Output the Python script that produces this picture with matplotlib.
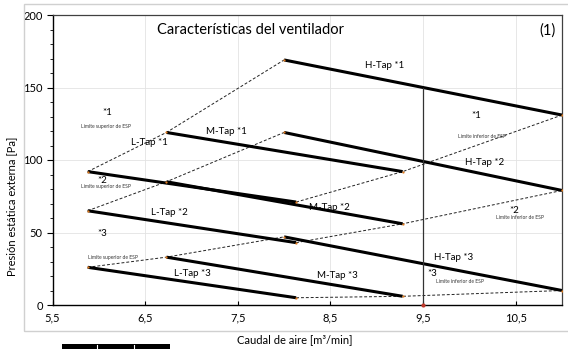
import numpy as np
import matplotlib
matplotlib.use("Agg")
import matplotlib.pyplot as plt
from matplotlib.patches import Rectangle
from matplotlib.lines import Line2D
from matplotlib.ticker import MultipleLocator, FixedLocator

plt.rcParams['font.family'] = ['Lato', 'DejaVu Sans']

# ---- data ----
x_L = [5.88, 8.13]
x_M = [6.73, 9.28]
x_H = [8.0, 11.0]
L_tap = {1: [92, 71], 2: [65, 43], 3: [26, 5]}
M_tap = {1: [119, 92], 2: [85, 56], 3: [33, 6]}
H_tap = {1: [169, 131], 2: [119, 79], 3: [47, 10]}
x_ticks = [5.5, 6.5, 7.5, 8.5, 9.5, 10.5]
x_ticklabels = ["5,5", "6,5", "7,5", "8,5", "9,5", "10,5"]
y_ticks = [0, 50, 100, 150, 200]
x_ref = 9.5

tap_labels = [
    ("H-Tap *1", 9.08, 165), ("M-Tap *1", 7.38, 120), ("L-Tap *1", 6.55, 112),
    ("H-Tap *2", 10.17, 98.5), ("M-Tap *2", 8.49, 67.5), ("L-Tap *2", 6.76, 63.5),
    ("H-Tap *3", 9.83, 33), ("M-Tap *3", 8.58, 20), ("L-Tap *3", 7.01, 22),
]
star_labels = [
    ("*1", 6.09, 133), ("*1", 10.08, 131), ("*2", 6.04, 86), ("*2", 10.48, 65.5),
    ("*3", 6.04, 49.5), ("*3", 9.6, 22),
]
limit_labels = [
    ("Límite superior de ESP", 6.08, 123), ("Límite inferior de ESP", 10.14, 116),
    ("Límite superior de ESP", 6.08, 81.5), ("Límite inferior de ESP", 10.55, 60.5),
    ("Límite superior de ESP", 6.15, 32.5), ("Límite inferior de ESP", 9.9, 16.5),
]

W, H = 568, 349
fig = plt.figure(figsize=(W / 100, H / 100), dpi=100)

# outer chart frame
fig.add_artist(Rectangle((24 / W, 1 - 331 / H), 1.0, 327 / H, transform=fig.transFigure,
                         fill=False, edgecolor='#d0d0d0', lw=1.0))

ax = fig.add_axes([52.5 / W, 1 - 305 / H, (562 - 52.5) / W, (305 - 15) / H])
ax.set_xlim(5.5, 11.0)
ax.set_ylim(0, 200)

ax.xaxis.set_major_locator(FixedLocator(x_ticks))
ax.set_xticklabels(x_ticklabels)
ax.yaxis.set_major_locator(FixedLocator(y_ticks))
ax.yaxis.set_minor_locator(MultipleLocator(10))
ax.tick_params(axis='both', labelsize=8, colors='black', pad=3)
ax.tick_params(axis='x', pad=5)
ax.tick_params(axis='y', which='major', length=4, direction='out')
ax.tick_params(axis='y', which='minor', length=2, direction='out')
ax.tick_params(axis='x', which='major', length=3, direction='in')
ax.grid(True, which='major', color='#e3e3e3', lw=0.6)
ax.set_axisbelow(True)

for s in ['left', 'bottom']:
    ax.spines[s].set_color('black')
    ax.spines[s].set_linewidth(1.0)
for s in ['top', 'right']:
    ax.spines[s].set_color('#404040')
    ax.spines[s].set_linewidth(0.9)

# dashed ESP limit lines
xs_up = [x_L[0], x_M[0], x_H[0]]
xs_lo = [x_L[1], x_M[1], x_H[1]]
for i in (1, 2, 3):
    ax.plot(xs_up, [L_tap[i][0], M_tap[i][0], H_tap[i][0]], color='#222222', lw=0.7,
            ls=(0, (3, 2)), zorder=3)
    ax.plot(xs_lo, [L_tap[i][1], M_tap[i][1], H_tap[i][1]], color='#222222', lw=0.7,
            ls=(0, (3, 2)), zorder=3)

# tap curves
for xs, d in ((x_L, L_tap), (x_M, M_tap), (x_H, H_tap)):
    for i in (1, 2, 3):
        ax.plot(xs, d[i], color='black', lw=2.2, solid_capstyle='butt', zorder=4)
        ax.plot(xs, d[i], ls='none', marker='o', ms=1.6, color='#e07b20', mec='none', zorder=5)

# reference vertical line
y_top = np.interp(x_ref, x_H, H_tap[1])
ax.plot([x_ref, x_ref], [0, y_top], color='#333333', lw=0.9, zorder=4)
ax.plot([x_ref], [0], marker='o', ms=3, color='#c0392b', mec='none', zorder=6, clip_on=False)

# texts
ax.text(6.625, 189.5, "Características del ventilador", fontsize=10.5, ha='left', va='center')
ax.text(10.93, 189.5, "(1)", fontsize=10.5, ha='right', va='center')
for t, x, y in tap_labels:
    ax.text(x, y, t, fontsize=7, ha='center', va='center')
for t, x, y in star_labels:
    ax.text(x, y, t, fontsize=7, ha='center', va='center')
for t, x, y in limit_labels:
    ax.text(x, y, t, fontsize=3.6, ha='center', va='center', color='#333333')

fig.text(295 / W, 1 - 340 / H, "Caudal de aire [m³/min]", fontsize=8, ha='center', va='center')
fig.text(12 / W, 1 - 206 / H, "Presión estática externa [Pa]", fontsize=8, ha='center',
         va='center', rotation=90)

# partially visible table at bottom
fig.add_artist(Rectangle((62 / W, 0), (170 - 62) / W, 5 / H, transform=fig.transFigure,
                         facecolor='black', edgecolor='none'))
for xv in (97, 134):
    fig.add_artist(Line2D([xv / W, xv / W], [0, 4 / H], transform=fig.transFigure,
                          color='white', lw=0.8))

fig.savefig("out.png", dpi=100)
